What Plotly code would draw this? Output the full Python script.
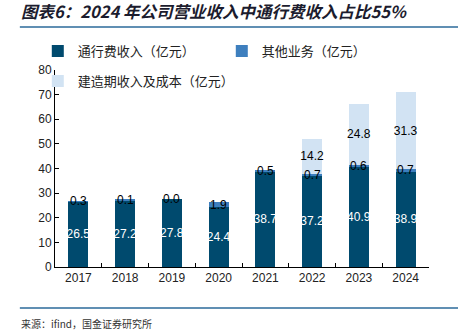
import plotly.graph_objects as go

years = ["2017", "2018", "2019", "2020", "2021", "2022", "2023", "2024"]
toll = [26.5, 27.2, 27.8, 24.4, 38.7, 37.2, 40.9, 38.9]
other = [0.3, 0.1, 0.0, 1.9, 0.5, 0.7, 0.6, 0.7]
construction = [None, None, None, None, None, 14.2, 24.8, 31.3]

names = ["通行费收入（亿元）", "其他业务（亿元）", "建造期收入及成本（亿元）"]
colors = ["#004A6E", "#3E7FBE", "#D2E3F3"]
title = "图表6：2024 年公司营业收入中通行费收入占比55%"
source = "来源：ifind，国金证券研究所"

num_font = "Arial, Liberation Sans, sans-serif"
cjk_font = "Noto Sans CJK SC, sans-serif"

fig = go.Figure()
fig.add_trace(go.Bar(
    x=years, y=toll, name=names[0], marker=dict(color=colors[0], line=dict(width=0)),
    text=[f"{v:.1f}" for v in toll], textposition="inside", insidetextanchor="middle",
    textangle=0, textfont=dict(color="white", size=12, family=num_font), legend="legend",
))
fig.add_trace(go.Bar(
    x=years, y=other, name=names[1], marker=dict(color=colors[1], line=dict(width=0)),
    textposition="none", legend="legend",
))
fig.add_trace(go.Bar(
    x=years, y=construction, name=names[2], marker=dict(color=colors[2], line=dict(width=0)),
    text=[f"{v:.1f}" if v is not None else "" for v in construction],
    textposition="inside", insidetextanchor="middle", textangle=0,
    textfont=dict(color="black", size=12, family=num_font), legend="legend2",
))

# labels for the thin "other" segment, centred on the segment (x given as category index)
for i, (base, v) in enumerate(zip(toll, other)):
    fig.add_annotation(
        x=i, y=base + v / 2, text=f"{v:.1f}", showarrow=False,
        xref="x", yref="y", yanchor="middle",
        font=dict(family=num_font, size=12, color="black"),
    )

fig.update_layout(
    barmode="stack",
    bargap=0.57,
    width=458, height=330,
    margin=dict(l=55, r=29, t=70, b=63),
    paper_bgcolor="white", plot_bgcolor="white",
    uniformtext=dict(minsize=12, mode="show"),
    font=dict(family=num_font, size=12, color="#222222"),
    legend=dict(
        orientation="h", x=-0.046, y=1.096, xanchor="left", yanchor="middle",
        xref="paper", yref="paper", entrywidth=139, entrywidthmode="pixels",
        traceorder="normal",
        font=dict(family=cjk_font, size=13, color="#222222"),
        bgcolor="rgba(0,0,0,0)", itemwidth=30,
    ),
    legend2=dict(
        orientation="h", x=-0.046, y=0.944, xanchor="left", yanchor="middle",
        xref="paper", yref="paper",
        font=dict(family=cjk_font, size=13, color="#222222"),
        bgcolor="rgba(0,0,0,0)", itemwidth=30,
    ),
    showlegend=True,
)

fig.update_xaxes(
    type="category", showline=True, linecolor="black", linewidth=1,
    ticks="inside", ticklen=4, tickcolor="black", tickson="boundaries",
    tickfont=dict(family=num_font, size=12, color="#222222"),
    showgrid=False, zeroline=False,
)
fig.update_yaxes(
    range=[0, 80], dtick=10, showline=True, linecolor="black", linewidth=1,
    ticks="inside", ticklen=4, tickcolor="black",
    tickfont=dict(family=num_font, size=12, color="#222222"),
    showgrid=False, zeroline=False,
)

# title, rules and source
fig.add_annotation(
    text=f"<b><i>{title}</i></b>", xref="paper", yref="paper",
    x=-0.095, y=1.0, xanchor="left", yanchor="bottom", yshift=45, showarrow=False,
    font=dict(family=cjk_font, size=16.5, color="#1C1C2E"),
)
for yy in (1.218, -0.208):
    fig.add_shape(type="line", xref="paper", yref="paper", x0=-0.094, x1=1.08,
                  y0=yy, y1=yy, line=dict(color="#2B6A9A", width=1.5))
fig.add_annotation(
    text=source, xref="paper", yref="paper", x=-0.095, y=0, xanchor="left",
    yanchor="top", yshift=-47, showarrow=False,
    font=dict(family=cjk_font, size=10, color="#333333"),
)

fig.write_html("out.html")
